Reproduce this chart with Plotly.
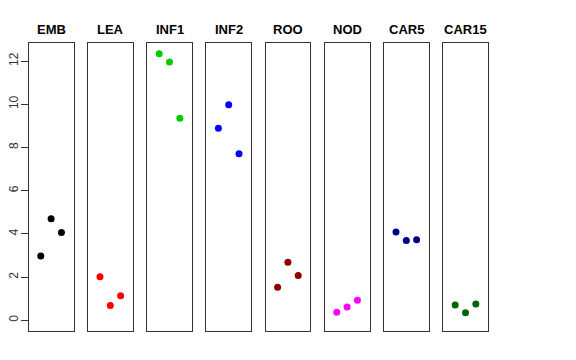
import plotly.graph_objects as go

categories = ["EMB", "LEA", "INF1", "INF2", "ROO", "NOD", "CAR5", "CAR15"]
colors = ["#000000", "#FF0000", "#00CD00", "#0000FF", "#8B0000", "#FF00FF", "#00008B", "#006400"]
values = {
    "EMB": [2.98, 4.70, 4.06],
    "LEA": [2.02, 0.69, 1.14],
    "INF1": [12.34, 11.96, 9.35],
    "INF2": [8.89, 9.98, 7.71],
    "ROO": [1.53, 2.69, 2.08],
    "NOD": [0.37, 0.62, 0.93],
    "CAR5": [4.09, 3.69, 3.73],
    "CAR15": [0.71, 0.35, 0.75],
}
replicates = [1, 2, 3]
y_ticks = [0, 2, 4, 6, 8, 10, 12]

W, H = 576, 360
OFF = 8  # page body margin compensation
left0, step, pw = 28.7 - OFF, 59.2, 44.8
top_px, bot_px = 43.3 - OFF, 330.7 - OFF

fig = go.Figure()
layout = dict(
    width=W, height=H,
    margin=dict(l=0, r=0, t=0, b=0),
    paper_bgcolor="white", plot_bgcolor="white",
    showlegend=False,
    font=dict(family="Liberation Sans, Arial, sans-serif", color="black"),
    annotations=[],
)
for i, cat in enumerate(categories):
    n = "" if i == 0 else str(i + 1)
    left = left0 + step * i
    fig.add_trace(go.Scatter(
        x=replicates, y=values[cat], mode="markers",
        marker=dict(color=colors[i], size=7, line=dict(width=0)),
        xaxis="x" + n, yaxis="y" + n, hoverinfo="y",
    ))
    layout["xaxis" + n] = dict(
        domain=[left / W, (left + pw) / W], range=[2 - 2.17, 2 + 2.17],
        showgrid=False, zeroline=False, showticklabels=False, ticks="",
        showline=True, mirror=True, linecolor="#333333", linewidth=1,
        anchor="y" + n, fixedrange=True,
    )
    ya = dict(
        domain=[(H - bot_px) / H, (H - top_px) / H], range=[-0.48, 12.82],
        showgrid=False, zeroline=False,
        showline=True, mirror=True, linecolor="#333333", linewidth=1,
        anchor="x" + n, fixedrange=True,
    )
    if i == 0:
        ya.update(tickvals=y_ticks, ticktext=[str(v) for v in y_ticks],
                  ticks="outside", ticklen=7, tickcolor="#333333", tickangle=-90,
                  ticklabelstandoff=-2,
                  tickfont=dict(size=12, color="#333333"), showticklabels=True)
    else:
        ya.update(showticklabels=False, ticks="")
    layout["yaxis" + n] = ya
    layout["annotations"].append(dict(
        text="<b>" + cat + "</b>", x=(left + pw / 2) / W, y=(H - (29 - OFF)) / H,
        xref="paper", yref="paper", showarrow=False,
        xanchor="center", yanchor="middle", font=dict(size=13, color="black"),
    ))

fig.update_layout(**layout)
fig.write_html("out.html")
